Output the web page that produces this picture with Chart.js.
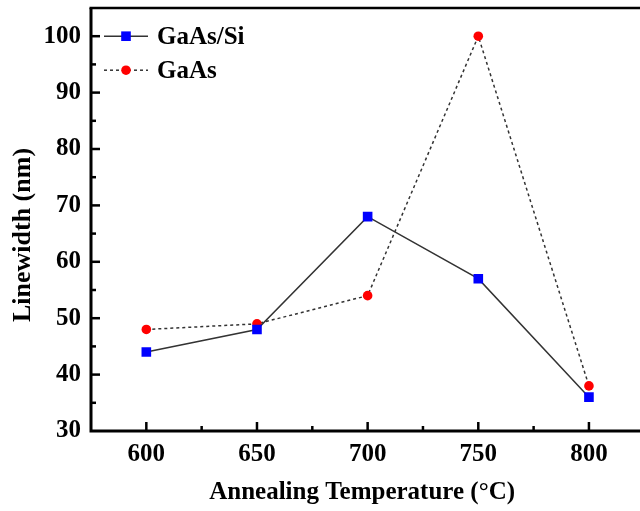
<!DOCTYPE html>
<html>
<head>
<meta charset="utf-8">
<script src="https://cdn.jsdelivr.net/npm/chart.js@4.4.1/dist/chart.umd.min.js"></script>
<style>
  html, body { margin: 0; padding: 0; background: #fff; }
  #wrap { width: 640px; height: 511px; }
</style>
</head>
<body>
<div id="wrap"><canvas id="canvas_grafico" width="640" height="511"></canvas></div>
<script>
const temperaturas = [600, 650, 700, 750, 800];
const linewidth_gaas_si = [44, 48, 68, 57, 36];
const linewidth_gaas = [48, 49, 54, 100, 38];
const etiquetas_series = ["GaAs/Si", "GaAs"];
const ticks_x = [600, 625, 650, 675, 700, 725, 750, 775, 800];
const ticks_y = [30, 35, 40, 45, 50, 55, 60, 65, 70, 75, 80, 85, 90, 95, 100];
const titulo_y = "Linewidth (nm)";

const fuente = "'Liberation Serif', 'Times New Roman', serif";

/* ejes, ticks hacia adentro, borde superior, titulo y, leyenda */
const plugin_marco = {
  id: "marco",
  afterDraw(chart) {
    const ctx = chart.ctx;
    const area = chart.chartArea;
    const x = chart.scales.x;
    const y = chart.scales.y;
    ctx.save();
    ctx.strokeStyle = "#000";
    ctx.lineWidth = 3;
    ctx.beginPath();
    ctx.moveTo(area.left, area.top);
    ctx.lineTo(area.left, area.bottom);
    ctx.lineTo(chart.width, area.bottom);
    ctx.stroke();
    ctx.lineWidth = 2.5;
    ctx.beginPath();
    ctx.moveTo(area.left - 1.5, area.top);
    ctx.lineTo(chart.width, area.top);
    ctx.stroke();

    x.ticks.forEach((t) => {
      const px = x.getPixelForValue(t.value);
      const largo = t.value % 50 === 0 ? 9 : 5;
      ctx.beginPath();
      ctx.moveTo(px, area.bottom);
      ctx.lineTo(px, area.bottom - largo);
      ctx.stroke();
    });
    y.ticks.forEach((t) => {
      if (t.value <= y.min) return;
      const py = y.getPixelForValue(t.value);
      const largo = t.value % 10 === 0 ? 9 : 5;
      ctx.beginPath();
      ctx.moveTo(area.left, py);
      ctx.lineTo(area.left + largo, py);
      ctx.stroke();
    });

    // titulo eje y
    ctx.fillStyle = "#000";
    ctx.font = "bold 26px " + fuente;
    ctx.textAlign = "center";
    ctx.textBaseline = "middle";
    ctx.translate(23, 235);
    ctx.rotate(-Math.PI / 2);
    ctx.fillText(titulo_y, 0, 0);
    ctx.setTransform(1, 0, 0, 1, 0, 0);

    // leyenda
    chart.data.datasets.forEach((ds, i) => {
      const ly = y.getPixelForValue(100) + i * 34;
      ctx.strokeStyle = ds.borderColor;
      ctx.lineWidth = ds.borderWidth;
      ctx.setLineDash(ds.borderDash || []);
      ctx.beginPath();
      ctx.moveTo(104, ly);
      ctx.lineTo(148, ly);
      ctx.stroke();
      ctx.setLineDash([]);
      ctx.fillStyle = ds.pointBackgroundColor;
      if (ds.pointStyle === "rect") {
        const s = Math.SQRT1_2 * ds.pointRadius;
        ctx.fillRect(126 - s, ly - s, 2 * s, 2 * s);
      } else {
        ctx.beginPath();
        ctx.arc(126, ly, ds.pointRadius, 0, Math.PI * 2);
        ctx.fill();
      }
      ctx.fillStyle = "#000";
      ctx.font = "bold 25px " + fuente;
      ctx.textBaseline = "middle";
      ctx.textAlign = "left";
      ctx.fillText(ds.label, 157, ly + 1);
    });
    ctx.restore();
  },
};

function renderGrafico() {
  const config = {
    type: "line",
    data: {
      datasets: [
        {
          label: etiquetas_series[0],
          data: temperaturas.map((t, i) => ({ x: t, y: linewidth_gaas_si[i] })),
          borderColor: "#333333",
          borderWidth: 1.5,
          pointStyle: "rect",
          pointRadius: 6.8,
          pointBackgroundColor: "#0000ff",
          pointBorderWidth: 0,
          pointBorderColor: "#0000ff",
          tension: 0,
        },
        {
          label: etiquetas_series[1],
          data: temperaturas.map((t, i) => ({ x: t, y: linewidth_gaas[i] })),
          borderColor: "#333333",
          borderWidth: 1.5,
          borderDash: [3, 3],
          pointStyle: "circle",
          pointRadius: 4.8,
          pointBackgroundColor: "#ff0000",
          pointBorderWidth: 0,
          pointBorderColor: "#ff0000",
          tension: 0,
        },
      ],
    },
    options: {
      responsive: false,
      animation: false,
      devicePixelRatio: 1,
      layout: { padding: { top: 8, right: 0, left: 0, bottom: 0 } },
      plugins: { legend: { display: false }, tooltip: { enabled: false } },
      scales: {
        x: {
          type: "linear",
          min: 575,
          max: 820,
          grid: { display: false, drawTicks: false },
          border: { display: false },
          afterBuildTicks: (scale) => { scale.ticks = ticks_x.map((v) => ({ value: v })); },
          ticks: {
            autoSkip: false,
            maxRotation: 0,
            padding: 9,
            color: "#000",
            font: { family: fuente, size: 25, weight: "bold" },
            callback: (v) => (v % 50 === 0 ? String(v) : ""),
          },
          title: {
            display: true,
            text: "Annealing Temperature (\u00b0C)",
            color: "#000",
            font: { family: fuente, size: 25, weight: "bold" },
            padding: { top: 0, bottom: 3 },
          },
          afterFit: (scale) => { scale.height = 80; scale.paddingLeft = 0; scale.paddingRight = 0; },
        },
        y: {
          min: 30,
          max: 105,
          grid: { display: false, drawTicks: false },
          border: { display: false },
          afterBuildTicks: (scale) => { scale.ticks = ticks_y.map((v) => ({ value: v })); },
          ticks: {
            autoSkip: false,
            padding: 10,
            color: "#000",
            font: { family: fuente, size: 25, weight: "bold" },
            callback: (v) => (v % 10 === 0 ? String(v) : ""),
          },
          title: { display: false },
          afterFit: (scale) => { scale.width = 91; scale.paddingTop = 0; scale.paddingBottom = 0; },
        },
      },
    },
    plugins: [plugin_marco],
  };
  new Chart(document.getElementById("canvas_grafico"), config);
}

renderGrafico();
</script>
</body>
</html>
